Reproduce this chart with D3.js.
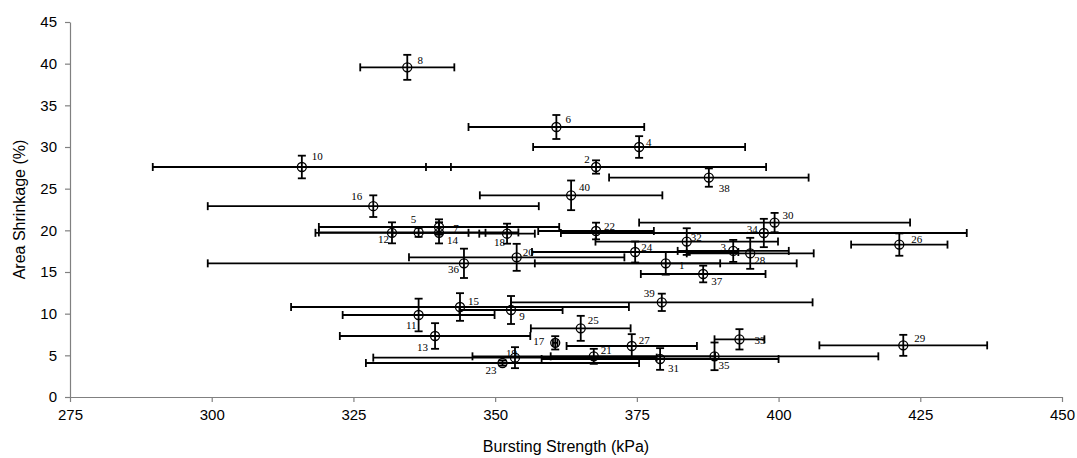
<!DOCTYPE html>
<html lang="en">
<head>
    <meta charset="UTF-8">
    <title>Area Shrinkage vs Bursting Strength</title>
    <script src="https://cdnjs.cloudflare.com/ajax/libs/d3/7.8.5/d3.min.js"></script>
    <style>
        body { margin: 0; background: #fff; }
        svg { display: block; }
    </style>
</head>
<body>
    <div id="chart"></div>

    <script>
        // sample numbers 1..40
        const ids = d3.range(1, 41);
        // bursting strength (kPa), mean and +/- error
        const strength = [380.1, 367.8, 392.0, 375.4, 336.5, 360.8, 340.1, 334.5, 352.8, 315.9,
                          336.5, 331.8, 339.4, 340.1, 343.8, 328.5, 360.6, 352.1, 353.5, 353.8,
                          367.4, 367.8, 351.3, 374.7, 365.1, 421.3, 374.1, 395.0, 422.0, 399.3,
                          379.1, 383.8, 393.1, 397.4, 388.7, 344.5, 386.7, 387.7, 379.4, 363.4];
        const strengthErr = [23.1, 30.0, 9.8, 18.7, 17.6, 15.5, 21.2, 8.3, 9.1, 26.3,
                             13.4, 13.5, 16.8, 8.2, 29.8, 29.2, 0.4, 4.9, 25.0, 19.0,
                             21.4, 10.2, 24.1, 18.2, 8.8, 8.5, 11.5, 11.2, 14.8, 23.9,
                             20.9, 16.1, 4.4, 35.8, 28.9, 45.2, 11.0, 17.6, 26.6, 16.1];
        // area shrinkage (%), mean and +/- error
        const shrinkage = [16.04, 27.6, 17.53, 30.0, 19.75, 32.4, 20.4, 39.56, 10.44, 27.6,
                           9.84, 19.7, 7.32, 19.7, 10.8, 22.9, 6.5, 19.6, 4.72, 16.76,
                           4.88, 19.92, 4.08, 17.4, 8.24, 18.29, 6.12, 17.24, 6.2, 20.93,
                           4.56, 18.65, 6.92, 19.68, 4.88, 16.04, 14.76, 26.33, 11.36, 24.2];
        const shrinkageErr = [1.36, 0.8, 1.32, 1.3, 0.54, 1.44, 0.92, 1.5, 1.68, 1.36,
                              1.96, 1.26, 1.54, 1.27, 1.66, 1.3, 0.8, 1.2, 1.26, 1.62,
                              0.9, 1.0, 0.3, 1.26, 1.5, 1.34, 1.42, 1.86, 1.26, 1.16,
                              1.3, 1.6, 1.22, 1.7, 1.66, 1.76, 1.0, 1.1, 1.04, 1.78];
        const xTicks = [275, 300, 325, 350, 375, 400, 425, 450];
        const yTicks = [0, 5, 10, 15, 20, 25, 30, 35, 40, 45];

        // where each number label sits next to its point: [dx, dy, anchor]
        const labelPlace = [
            [16, 2, "middle"], [-9, -8, "middle"], [-10, -4, "middle"], [7, -5, "start"], [-5, -13, "middle"],
            [12, -8, "middle"], [17, 1, "middle"], [13, -7, "middle"], [11, 6, "middle"], [10, -11, "start"],
            [-2, 10, "end"], [-3, 6, "end"], [-7, 11, "end"], [8, 7, "start"], [8, -6, "start"],
            [-11, -10, "end"], [-11, -2, "end"], [-2, 8, "end"], [2, -5, "end"], [6, -5, "start"],
            [7, -6, "start"], [8, -5, "start"], [-6, 7, "end"], [6, -5, "start"], [7, -8, "start"],
            [12, -6, "start"], [7, -6, "start"], [4, 7, "start"], [11, -7, "start"], [8, -8, "start"],
            [8, 9, "start"], [4, -5, "start"], [15, 1, "start"], [-6, -4, "end"], [4, 9, "start"],
            [-5, 6, "end"], [8, 7, "start"], [10, 10, "start"], [-7, -9, "end"], [8, -8, "start"]
        ];

        const data = ids.map((id, i) => ({
            id: id, x: strength[i], xe: strengthErr[i], y: shrinkage[i], ye: shrinkageErr[i],
            place: labelPlace[i]
        }));

        const width = 1077;
        const height = 458;
        const margin = { top: 22, right: 15, bottom: 61, left: 70 };

        const svg = d3.select("#chart")
            .append("svg")
            .attr("width", width)
            .attr("height", height);

        const x = d3.scaleLinear()
            .domain([275, 450])
            .range([margin.left, width - margin.right]);

        const y = d3.scaleLinear()
            .domain([0, 45])
            .range([height - margin.bottom, margin.top]);

        const xAxis = svg.append("g")
            .attr("transform", `translate(0,${height - margin.bottom})`)
            .call(d3.axisBottom(x).tickValues(xTicks).tickSize(5).tickPadding(7).tickSizeOuter(0));

        const yAxis = svg.append("g")
            .attr("transform", `translate(${margin.left},0)`)
            .call(d3.axisLeft(y).tickValues(yTicks).tickSize(5).tickPadding(8).tickSizeOuter(0));

        [xAxis, yAxis].forEach(g => {
            g.select(".domain").attr("stroke", "#808080").attr("stroke-width", 1.2);
            g.selectAll(".tick line").attr("stroke", "#808080").attr("stroke-width", 1.2);
            g.selectAll(".tick text")
                .attr("fill", "#000")
                .attr("font-family", "'Liberation Sans', Arial, sans-serif")
                .attr("font-size", "15px");
        });

        svg.append("text")
            .attr("x", (margin.left + width - margin.right) / 2)
            .attr("y", 452)
            .attr("text-anchor", "middle")
            .attr("font-family", "'Liberation Sans', Arial, sans-serif")
            .attr("font-size", "16px")
            .text("Bursting Strength (kPa)");

        svg.append("text")
            .attr("transform", `translate(25,${(margin.top + height - margin.bottom) / 2}) rotate(-90)`)
            .attr("text-anchor", "middle")
            .attr("font-family", "'Liberation Sans', Arial, sans-serif")
            .attr("font-size", "16px")
            .text("Area Shrinkage (%)");

        const cap = 4;
        const bars = svg.append("g")
            .attr("stroke", "#000")
            .attr("stroke-width", 1.8)
            .attr("fill", "none");

        const pt = bars.selectAll("g")
            .data(data)
            .join("g");

        // horizontal error bars
        pt.append("line")
            .attr("x1", d => x(d.x - d.xe)).attr("x2", d => x(d.x + d.xe))
            .attr("y1", d => y(d.y)).attr("y2", d => y(d.y));
        pt.append("line")
            .attr("x1", d => x(d.x - d.xe)).attr("x2", d => x(d.x - d.xe))
            .attr("y1", d => y(d.y) - cap).attr("y2", d => y(d.y) + cap);
        pt.append("line")
            .attr("x1", d => x(d.x + d.xe)).attr("x2", d => x(d.x + d.xe))
            .attr("y1", d => y(d.y) - cap).attr("y2", d => y(d.y) + cap);

        // vertical error bars
        pt.append("line")
            .attr("x1", d => x(d.x)).attr("x2", d => x(d.x))
            .attr("y1", d => y(d.y - d.ye)).attr("y2", d => y(d.y + d.ye));
        pt.append("line")
            .attr("x1", d => x(d.x) - cap).attr("x2", d => x(d.x) + cap)
            .attr("y1", d => y(d.y + d.ye)).attr("y2", d => y(d.y + d.ye));
        pt.append("line")
            .attr("x1", d => x(d.x) - cap).attr("x2", d => x(d.x) + cap)
            .attr("y1", d => y(d.y - d.ye)).attr("y2", d => y(d.y - d.ye));

        // open circle markers
        svg.append("g")
            .selectAll("circle")
            .data(data)
            .join("circle")
            .attr("cx", d => x(d.x))
            .attr("cy", d => y(d.y))
            .attr("r", 4.5)
            .attr("fill", "none")
            .attr("stroke", "#000")
            .attr("stroke-width", 1.3);

        // sample numbers
        svg.append("g")
            .selectAll("text")
            .data(data)
            .join("text")
            .attr("x", d => x(d.x) + d.place[0])
            .attr("y", d => y(d.y) + d.place[1])
            .attr("text-anchor", d => d.place[2])
            .attr("dominant-baseline", "central")
            .attr("font-family", "'Liberation Serif', 'Times New Roman', serif")
            .attr("font-size", "11px")
            .text(d => d.id);
    </script>
</body>
</html>
